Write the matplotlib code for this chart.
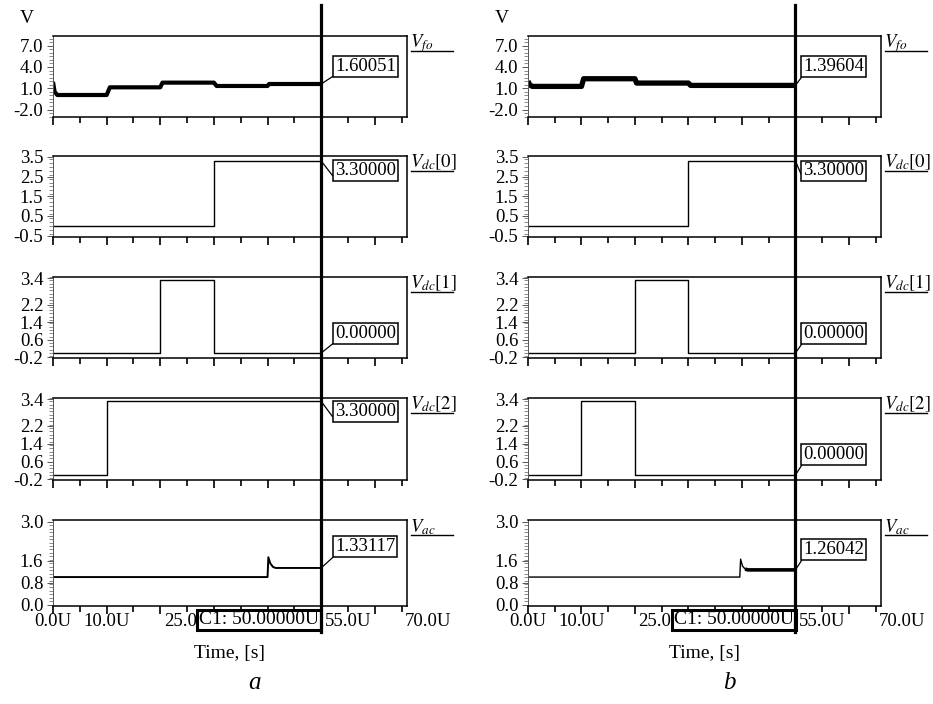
import matplotlib.pyplot as plt
from matplotlib.lines import Line2D
from matplotlib.ticker import MultipleLocator

plt.rcParams['font.family'] = ['Liberation Serif', 'DejaVu Serif']
plt.rcParams['mathtext.fontset'] = 'stix'

# x axis (time in microseconds, shown as "U")
x_tick_labels = ['0.0U', '10.0U', '25.0U', '40.0U', '55.0U', '70.0U']
x_tick_pos = [0, 10, 25, 40, 55, 70]
cursor_t = 50
cursor_text = 'C1: 50.00000U'

# signal names and y axes
names = [r'$V_{fo}$', r'$V_{dc}[0]$', r'$V_{dc}[1]$', r'$V_{dc}[2]$', r'$V_{ac}$']
ylims = [(-3.05, 8.36), (-0.57, 3.55), (-0.225, 3.45), (-0.225, 3.45), (-0.05, 3.07)]
yticks = [[7.0, 4.0, 1.0, -2.0],
          [3.5, 2.5, 1.5, 0.5, -0.5],
          [3.4, 2.2, 1.4, 0.6, -0.2],
          [3.4, 2.2, 1.4, 0.6, -0.2],
          [3.0, 1.6, 0.8, 0.0]]
minor_step = [0.5, 0.2, 0.15, 0.15, 0.125]

# case a
vfo_a_t = [0, 0.3, 0.8, 10, 10.6, 20, 20.4, 30, 30.5, 40, 40.3, 50]
vfo_a_v = [1.9, 0.5, 0.05, 0.05, 1.13, 1.13, 1.79, 1.79, 1.32, 1.32, 1.6, 1.6]
vdc0_a_t = [0, 30, 30, 50]
vdc0_a_v = [0, 0, 3.3, 3.3]
vdc1_a_t = [0, 20, 20, 30, 30, 50]
vdc1_a_v = [0, 0, 3.3, 3.3, 0, 0]
vdc2_a_t = [0, 10, 10, 50]
vdc2_a_v = [0, 0, 3.3, 3.3]
vac_a_t = [0, 40, 40.15, 40.5, 41, 41.5, 50]
vac_a_v = [1.0, 1.0, 1.72, 1.5, 1.37, 1.33, 1.33]
values_a = ['1.60051', '3.30000', '0.00000', '3.30000', '1.33117']

# case b
vfo_b_t = [0, 0.3, 0.8, 10, 10.4, 20, 20.3, 30, 30.4, 50]
vfo_b_v = [2.0, 1.5, 1.26, 1.26, 2.34, 2.34, 1.73, 1.73, 1.4, 1.4]
vdc0_b_t = [0, 30, 30, 50]
vdc0_b_v = [0, 0, 3.3, 3.3]
vdc1_b_t = [0, 20, 20, 30, 30, 50]
vdc1_b_v = [0, 0, 3.3, 3.3, 0, 0]
vdc2_b_t = [0, 10, 10, 20, 20, 50]
vdc2_b_v = [0, 0, 3.3, 3.3, 0, 0]
vac_b_t = [0, 39.6, 39.75, 40.1, 40.6, 41.1, 50]
vac_b_v = [1.0, 1.0, 1.65, 1.4, 1.29, 1.26, 1.26]
values_b = ['1.39604', '3.30000', '0.00000', '0.00000', '1.26042']

# line widths of the traces (noisy ones look thick)
lw_a = [3.0, 1.0, 1.0, 1.0, 1.4]
lw_b = [3.8, 1.0, 1.0, 1.0, 1.0]

# position of value boxes (axes fraction, lower left corner)
box_a = [(0.797, 0.52), (0.797, 0.716), (0.797, 0.2), (0.797, 0.73), (0.797, 0.59)]
box_b = [(0.78, 0.52), (0.78, 0.71), (0.78, 0.2), (0.78, 0.21), (0.78, 0.56)]

W, H = 933, 704
panel_top = [36, 156, 277, 398, 520]
panel_bot = [117, 237, 358, 480, 606]


def draw_column(fig, left_px, width_px, series, lws, values, boxes, letter):
    axes = []
    for i in range(5):
        ax = fig.add_axes([left_px / W, 1 - panel_bot[i] / H, width_px / W,
                           (panel_bot[i] - panel_top[i]) / H])
        t, v = series[i]
        ax.plot(t, v, color='black', lw=lws[i], solid_capstyle='butt')
        if i == 4 and letter == 'b':
            # noisy part after the transient
            ax.plot(t[4:], v[4:], color='black', lw=2.6, solid_capstyle='butt')
        ax.set_xlim(0, 66)
        ax.set_ylim(*ylims[i])
        ax.set_yticks(yticks[i])
        ax.set_yticklabels(['%.1f' % y for y in yticks[i]], fontsize=13.5)
        ax.yaxis.set_minor_locator(MultipleLocator(minor_step[i]))
        ax.tick_params(axis='y', which='major', direction='out', length=4, width=0.7,
                       pad=3, color='#555555')
        ax.tick_params(axis='y', which='minor', direction='out', length=3, width=0.6,
                       color='#777777')
        ax.xaxis.set_major_locator(MultipleLocator(10))
        ax.xaxis.set_minor_locator(MultipleLocator(5))
        ax.tick_params(axis='x', which='major', direction='out', length=6, width=1.2,
                       labelbottom=False)
        ax.tick_params(axis='x', which='minor', direction='out', length=4.5, width=1.2)
        for s in ['top', 'right', 'bottom']:
            ax.spines[s].set_linewidth(1.1)
        ax.spines['left'].set_linewidth(0.7)
        ax.spines['left'].set_color('#555555')

        # signal name with underline on the right
        ax.plot([1.012, 1.13], [0.82, 0.82], transform=ax.transAxes, clip_on=False,
                color='black', lw=1.0)
        ax.text(1.008, 0.86, names[i], transform=ax.transAxes, fontsize=13.5,
                ha='left', va='baseline')

        # value at cursor
        ax.annotate(values[i], xy=(cursor_t, v[-1]), xycoords='data',
                    xytext=boxes[i], textcoords='axes fraction',
                    ha='left', va='bottom', fontsize=13.5,
                    bbox=dict(boxstyle='square,pad=0.1', fc='white', ec='black', lw=1.1),
                    arrowprops=dict(arrowstyle='-', color='black', lw=0.9,
                                    relpos=(0, 0), shrinkA=0, shrinkB=0))
        axes.append(ax)

    axes[0].text(-0.075, 1.22, 'V', transform=axes[0].transAxes, fontsize=14,
                 ha='center', va='center')

    bottom = axes[-1]
    for x, lab in zip(x_tick_pos, x_tick_labels):
        bottom.text(x, -0.18, lab, transform=bottom.get_xaxis_transform(),
                    ha='center', va='center', fontsize=13.5, clip_on=False)
    bottom.text(0.5, -0.55, 'Time, [s]', transform=bottom.transAxes,
                ha='center', va='center', fontsize=14)
    bottom.text(0.57, -0.9, letter, transform=bottom.transAxes,
                ha='center', va='center', fontsize=18, style='italic')

    # cursor line through all panels and C1 box
    cx = fig.transFigure.inverted().transform(bottom.transData.transform((cursor_t, 0)))[0]
    fig.add_artist(Line2D([cx, cx], [1 - 5 / H, 1 - 632 / H], color='black', lw=2.3,
                          transform=fig.transFigure, zorder=10))
    fig.text(cx - 0.002, 1 - 620 / H, cursor_text, ha='right', va='center', fontsize=14,
             zorder=9, bbox=dict(boxstyle='square,pad=0.1', fc='white', ec='black', lw=2.2))


fig = plt.figure(figsize=(W / 100, H / 100), dpi=100)

series_a = [(vfo_a_t, vfo_a_v), (vdc0_a_t, vdc0_a_v), (vdc1_a_t, vdc1_a_v),
            (vdc2_a_t, vdc2_a_v), (vac_a_t, vac_a_v)]
series_b = [(vfo_b_t, vfo_b_v), (vdc0_b_t, vdc0_b_v), (vdc1_b_t, vdc1_b_v),
            (vdc2_b_t, vdc2_b_v), (vac_b_t, vac_b_v)]

draw_column(fig, 53, 354, series_a, lw_a, values_a, box_a, 'a')
draw_column(fig, 528, 353, series_b, lw_b, values_b, box_b, 'b')

fig.savefig('out.png', dpi=100)
